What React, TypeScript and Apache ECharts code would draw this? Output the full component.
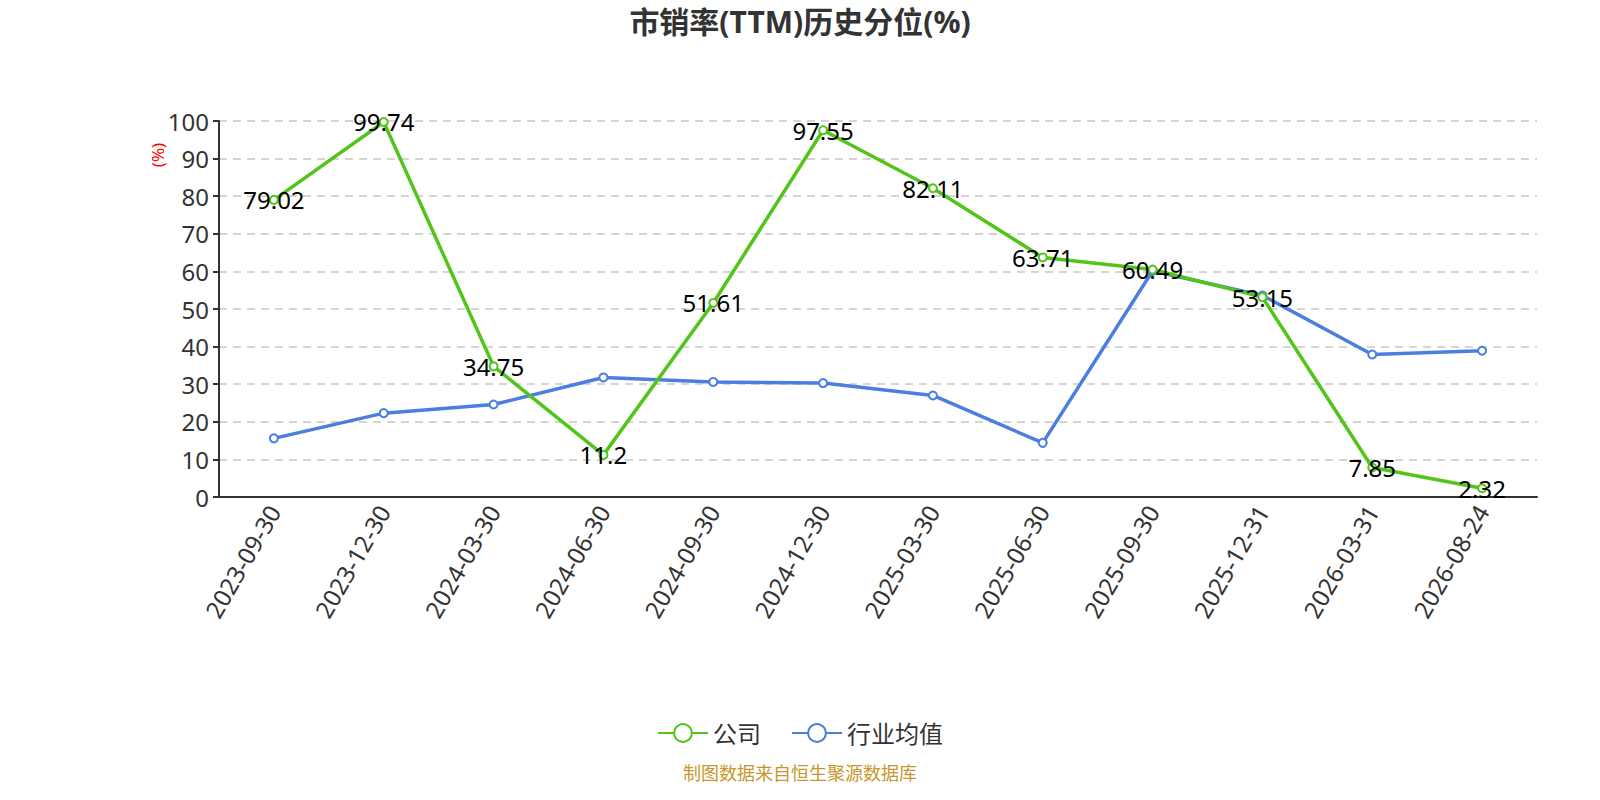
import React, { useEffect, useRef } from "react";
import * as echarts from "echarts";

const categories = [
  "2023-09-30", "2023-12-30", "2024-03-30", "2024-06-30", "2024-09-30", "2024-12-30",
  "2025-03-30", "2025-06-30", "2025-09-30", "2025-12-31", "2026-03-31", "2026-08-24",
];
const companyValues = [79.02, 99.74, 34.75, 11.2, 51.61, 97.55, 82.11, 63.71, 60.49, 53.15, 7.85, 2.32];
const industryValues = [15.6, 22.3, 24.6, 31.8, 30.6, 30.3, 27.0, 14.4, 60.1, 53.6, 37.9, 38.9];
const yTicks = { min: 0, max: 100, interval: 10 };

const FONT = "'Noto Sans', 'Noto Sans CJK SC', sans-serif";

export default function App() {
  const ref = useRef<HTMLDivElement>(null);
  useEffect(() => {
    document.body.style.margin = "0";
    const chart = echarts.init(ref.current!, null, { renderer: "svg" });
    chart.setOption({
      animation: false,
      textStyle: { fontFamily: FONT },
      title: {
        text: "市销率(TTM)历史分位(%)",
        left: "center",
        top: 1,
        textStyle: { fontSize: 30, fontWeight: "bold", color: "#333", fontFamily: FONT },
      },
      grid: { left: 219, right: 63, top: 121, bottom: 303 },
      legend: {
        bottom: 50,
        left: "center",
        itemWidth: 50,
        itemHeight: 22,
        itemGap: 30,
        textStyle: { fontSize: 24, color: "#333", fontFamily: FONT },
        data: ["公司", "行业均值"],
      },
      xAxis: {
        type: "category",
        data: categories,
        boundaryGap: true,
        axisLine: { lineStyle: { color: "#333", width: 2 } },
        axisTick: { alignWithLabel: false, length: 6, lineStyle: { color: "#333", width: 2 } },
        axisLabel: { rotate: 60, fontSize: 24, color: "#333", margin: 10, interval: 0, fontFamily: FONT },
      },
      yAxis: {
        type: "value",
        min: yTicks.min,
        max: yTicks.max,
        interval: yTicks.interval,
        axisLine: { show: true, lineStyle: { color: "#333", width: 2 } },
        axisTick: { show: true, length: 6, lineStyle: { color: "#333", width: 2 } },
        axisLabel: { fontSize: 24, color: "#333", margin: 10, fontFamily: FONT },
        splitLine: { lineStyle: { type: [8, 6], color: "#c8c8c8", width: 1.5 } },
      },
      graphic: [
        {
          type: "text",
          x: 157,
          y: 155,
          rotation: Math.PI / 2,
          style: {
            text: "(%)",
            fill: "#ff0000",
            fontSize: 17,
            fontFamily: FONT,
            align: "center",
            verticalAlign: "middle",
          },
        },
        {
          type: "text",
          left: "center",
          top: 764,
          style: {
            text: "制图数据来自恒生聚源数据库",
            fill: "#c8962d",
            fontSize: 18,
            fontFamily: FONT,
          },
        },
      ],
      series: [
        {
          name: "公司",
          type: "line",
          data: companyValues,
          symbol: "emptyCircle",
          symbolSize: 8,
          lineStyle: { color: "#52c41a", width: 3.5 },
          itemStyle: { color: "#52c41a", borderWidth: 2 },
          label: {
            show: true,
            position: "inside",
            fontSize: 24,
            color: "#000",
            fontFamily: FONT,
          },
          z: 3,
        },
        {
          name: "行业均值",
          type: "line",
          data: industryValues,
          symbol: "emptyCircle",
          symbolSize: 8,
          lineStyle: { color: "#4a7fe0", width: 3.5 },
          itemStyle: { color: "#4a7fe0", borderWidth: 2 },
          z: 2,
        },
      ],
    });
    return () => chart.dispose();
  }, []);
  return <div ref={ref} style={{ width: 1600, height: 800 }} />;
}
